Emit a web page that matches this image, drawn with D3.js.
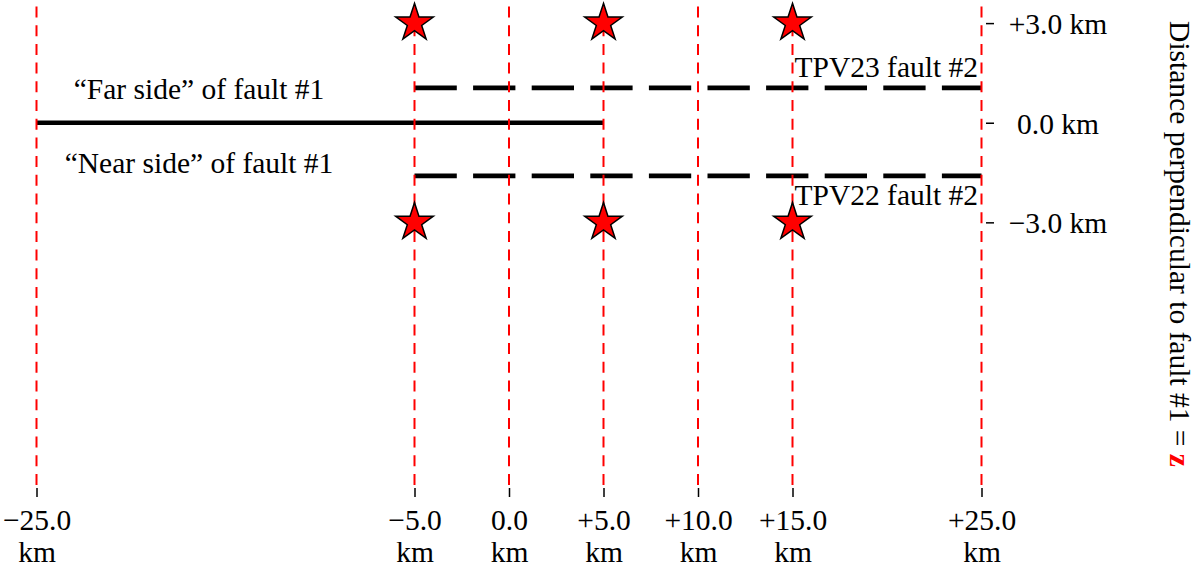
<!DOCTYPE html>
<html>
<head>
<meta charset="utf-8">
<script src="https://cdn.jsdelivr.net/npm/d3@7"></script>
<style>
  html, body { margin: 0; padding: 0; background: #fff; }
  svg { display: block; }
  text { font-family: "Liberation Serif", "Times New Roman", serif; fill: #000; }
</style>
</head>
<body>
<script>
// ---- data ----
const guideLinesX = [-25, -5, 0, 5, 10, 15, 25];
const xTickValues = [-25, -5, 0, 5, 10, 15, 25];
const xTickLabels = ["\u221225.0", "\u22125.0", "0.0", "+5.0", "+10.0", "+15.0", "+25.0"];
const yTickValues = [3, 0, -3];
const yTickLabels = ["+3.0 km", "0.0 km", "\u22123.0 km"];
const fault1X = [-25, 5];
const fault1Y = 0;
const fault2Names = ["TPV23 fault #2", "TPV22 fault #2"];
const fault2X = [-5, 25];
const fault2Y = [1.05, -1.6];
const hypoX = [-5, 5, 15];
const hypoY = [3, -3];
const sideLabels = ["\u201CFar side\u201D of fault #1", "\u201CNear side\u201D of fault #1"];
const sideLabelY = [0.7, -1.5];
const sideLabelX = -16.4;
const yDomain = [-11, 3.5];

// ---- layout ----
const W = 1196, H = 573;
const x = d3.scaleLinear().domain([-25, 25]).range([36.5, 981.5]);
const y = d3.scaleLinear().domain(yDomain).range([488, 6.5]);
const FS = 29.5;

const svg = d3.select("body").append("svg").attr("width", W).attr("height", H);

// black fault lines
svg.append("line")
  .attr("x1", x(fault1X[0])).attr("x2", x(fault1X[1]))
  .attr("y1", y(fault1Y)).attr("y2", y(fault1Y))
  .attr("stroke", "#000").attr("stroke-width", 4.6);

svg.selectAll("line.f2").data(fault2Y).enter().append("line")
  .attr("class", "f2")
  .attr("x1", x(fault2X[0])).attr("x2", x(fault2X[1]))
  .attr("y1", d => y(d)).attr("y2", d => y(d))
  .attr("stroke", "#000").attr("stroke-width", 4.6)
  .attr("stroke-dasharray", "42.3,16.3");

// red dashed guide lines
svg.selectAll("line.guide").data(guideLinesX).enter().append("line")
  .attr("class", "guide")
  .attr("x1", d => x(d)).attr("x2", d => x(d))
  .attr("y1", y(yDomain[1])).attr("y2", y(yDomain[0]))
  .attr("stroke", "#ff0000").attr("stroke-width", 2)
  .attr("stroke-dasharray", "11,7.7");

// stars
const star = d3.symbol().type(d3.symbolStar).size(440);
const starPts = [];
hypoY.forEach(yy => hypoX.forEach(xx => starPts.push([xx, yy])));
svg.selectAll("path.star").data(starPts).enter().append("path")
  .attr("class", "star")
  .attr("d", star)
  .attr("transform", d => `translate(${x(d[0])},${y(d[1])})`)
  .attr("fill", "#ff0000").attr("stroke", "#000").attr("stroke-width", 1.5);

// bottom axis
const xAxis = d3.axisBottom(x).tickValues(xTickValues).tickSize(9).tickFormat("");
const gx = svg.append("g").attr("transform", `translate(0,${y(yDomain[0])})`).call(xAxis);
gx.select(".domain").remove();
gx.selectAll(".tick line").attr("stroke", "#000").attr("stroke-width", 1.5);
gx.selectAll(".tick").each(function(d, i) {
  const t = d3.select(this).append("text")
    .attr("text-anchor", "middle").attr("font-size", FS).attr("fill", "#000");
  t.append("tspan").attr("x", 0).attr("y", 42).text(xTickLabels[i]);
  t.append("tspan").attr("x", 0).attr("y", 74).text("km");
});

// right axis
const yAxis = d3.axisRight(y).tickValues(yTickValues).tickSize(8).tickFormat("");
const gy = svg.append("g").attr("transform", "translate(986,0)").call(yAxis);
gy.select(".domain").remove();
gy.selectAll(".tick line").attr("stroke", "#000").attr("stroke-width", 1.5);
gy.selectAll(".tick").append("text")
  .attr("x", 72).attr("dy", "0.35em")
  .attr("text-anchor", "middle").attr("font-size", FS).attr("fill", "#000")
  .text((d, i) => yTickLabels[i]);

// side labels
svg.selectAll("text.side").data(sideLabels).enter().append("text")
  .attr("class", "side")
  .attr("x", x(sideLabelX)).attr("y", (d, i) => y(sideLabelY[i]) )
  .attr("text-anchor", "middle").attr("font-size", FS)
  .text(d => d);

// fault #2 labels
svg.selectAll("text.f2lab").data(fault2Names).enter().append("text")
  .attr("class", "f2lab")
  .attr("x", x(25) - 3.5)
  .attr("y", (d, i) => i === 0 ? y(fault2Y[0]) - 11 : y(fault2Y[1]) + 29)
  .attr("text-anchor", "end").attr("font-size", FS)
  .text(d => d);

// axis title (rotated clockwise)
const title = svg.append("text")
  .attr("transform", "translate(1170,244) rotate(90)")
  .attr("text-anchor", "middle").attr("font-size", FS);
title.append("tspan").text("Distance perpendicular to fault #1 = ");
title.append("tspan").attr("fill", "#ff0000").attr("font-weight", "bold").text("z");
</script>
</body>
</html>
